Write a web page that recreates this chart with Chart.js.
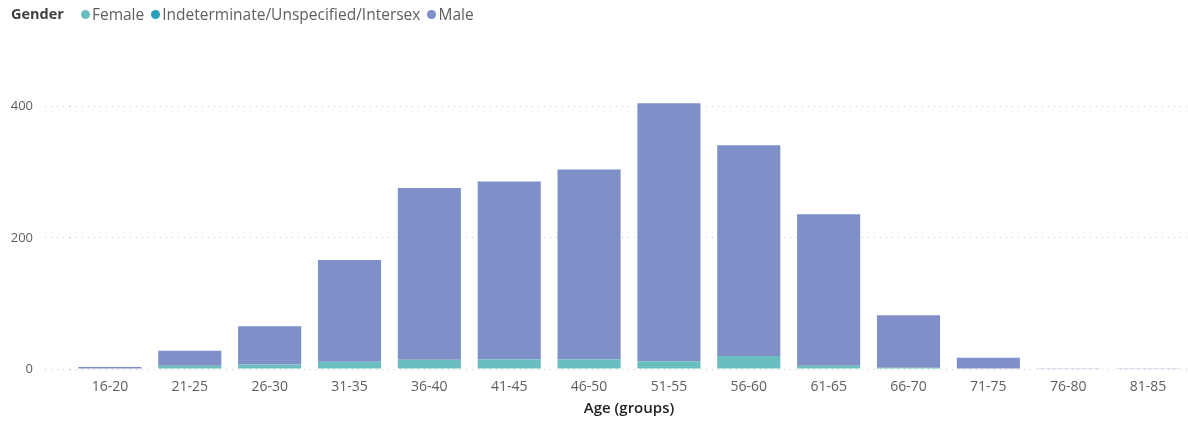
<!DOCTYPE html>
<html>
<head>
<meta charset="utf-8">
<script src="https://cdn.jsdelivr.net/npm/chart.js@4/dist/chart.umd.min.js"></script>
<style>
  html, body { margin: 0; padding: 0; background: #fff; }
  #wrap { position: relative; width: 1188px; height: 423px; }
  #legend {
    position: absolute; top: 3px; left: 11px;
    font-family: 'Segoe UI', 'Open Sans', sans-serif; font-size: 15.5px;
    color: #605E5C; display: flex; align-items: center; white-space: nowrap;
    line-height: 22px;
  }
  #legend .title { font-weight: 700; font-size: 14.5px; color: #404040; margin-right: 17px; }
  #legend .item { display: flex; align-items: center; margin-right: 7px; }
  #legend .dot { width: 9px; height: 9px; border-radius: 50%; margin-right: 2px; }
</style>
</head>
<body>
<div id="wrap">
  <canvas id="ageChart"></canvas>
  <div id="legend"><span class="title">Gender</span></div>
</div>
<script>
const ageGroups = ['16-20', '21-25', '26-30', '31-35', '36-40', '41-45', '46-50',
  '51-55', '56-60', '61-65', '66-70', '71-75', '76-80', '81-85'];
const female = [0, 5, 7, 11, 14, 15, 15, 12, 20, 5, 2, 0, 0, 0];
const indeterminate = [0, 0, 0, 0, 0, 0, 0, 0, 0, 0, 0, 0, 0, 0];
const male = [3, 23, 58, 155, 262, 271, 289, 393, 321, 231, 80, 17, 1, 1];
const yTicks = [0, 200, 400];

const FONT = "'Segoe UI', 'Open Sans', sans-serif";
const gridColor = '#C8C6C4';

const ctx = document.getElementById('ageChart').getContext('2d');
const chart = new Chart(ctx, {
  type: 'bar',
  data: {
    labels: ageGroups,
    datasets: [
      { label: 'Female', data: female, backgroundColor: '#6ABEC0' },
      { label: 'Indeterminate/Unspecified/Intersex', data: indeterminate, backgroundColor: '#2A9FBD' },
      { label: 'Male', data: male, backgroundColor: '#7F8FC8' },
    ],
  },
  options: {
    responsive: true,
    maintainAspectRatio: false,
    animation: false,
    layout: { padding: { top: 41, left: 10, right: 0, bottom: 5 } },
    datasets: {
      bar: { categoryPercentage: 1, barPercentage: 0.79, borderWidth: 0 },
    },
    plugins: {
      legend: { display: false },
      tooltip: { enabled: false },
    },
    scales: {
      x: {
        stacked: true,
        afterFit: scale => { scale.height = 49; },
        grid: { display: false, drawTicks: false },
        border: { display: false },
        ticks: { color: '#605E5C', padding: 10, font: { family: FONT, size: 14 } },
        title: {
          display: true,
          text: 'Age (groups)',
          color: '#252423',
          padding: { top: 4, bottom: 0 },
          font: { family: FONT, size: 15, weight: '600' },
        },
      },
      y: {
        stacked: true,
        min: 0,
        max: 500,
        afterFit: scale => { scale.width = 60; },
        afterBuildTicks: scale => { scale.ticks = yTicks.map(v => ({ value: v })); },
        grid: {
          color: gridColor,
          tickColor: gridColor,
          tickLength: 25,
          tickBorderDash: [1, 5],
          lineWidth: 1,
        },
        border: { display: false, dash: [1, 5] },
        ticks: { color: '#605E5C', padding: 12, font: { family: FONT, size: 13 } },
      },
    },
  },
});

// html legend built from the datasets
const legendEl = document.getElementById('legend');
chart.data.datasets.forEach(ds => {
  const item = document.createElement('span');
  item.className = 'item';
  const dot = document.createElement('span');
  dot.className = 'dot';
  dot.style.background = ds.backgroundColor;
  item.appendChild(dot);
  item.appendChild(document.createTextNode(ds.label));
  legendEl.appendChild(item);
});
</script>
</body>
</html>
